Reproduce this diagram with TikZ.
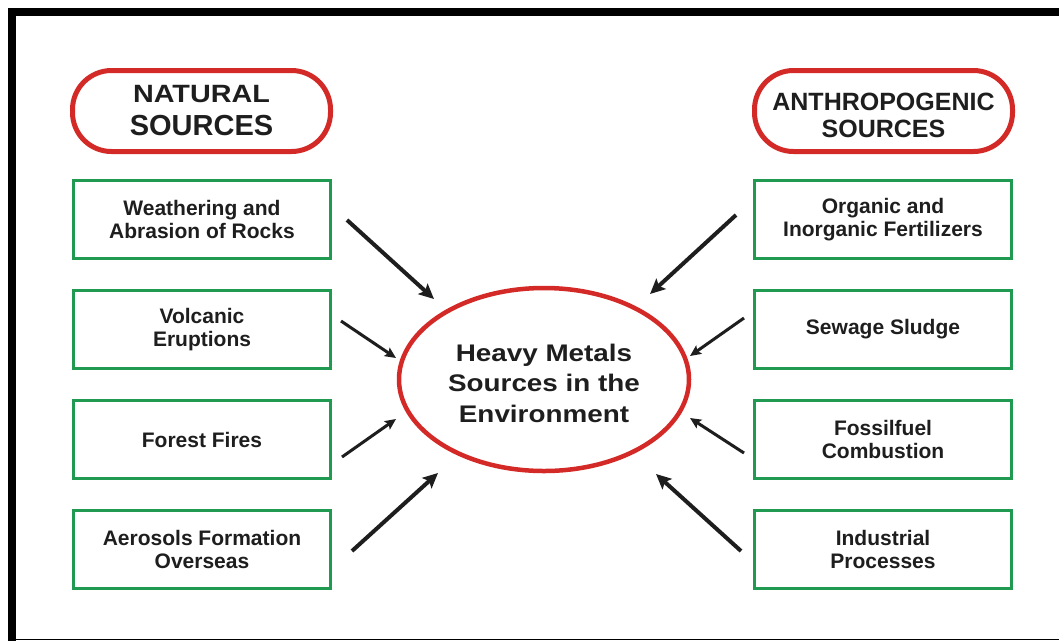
\documentclass[tikz,border=0pt]{standalone}
\usepackage{fontspec}
\setmainfont{Liberation Sans}
\newfontfamily\widesans[FakeStretch=1.15]{Liberation Sans}
\newfontfamily\centresans[FakeStretch=1.16]{Liberation Sans}
\usetikzlibrary{arrows.meta,shapes.geometric}
\definecolor{ovred}{HTML}{D42A27}
\definecolor{boxgreen}{HTML}{1F9A50}
\definecolor{txt}{HTML}{1E1E1E}
\begin{document}
\begin{tikzpicture}[x=1pt,y=-1pt,
  srcbox/.style={draw=boxgreen, line width=2.6pt, minimum width=257pt, minimum height=78pt,
    inner sep=0pt, align=center, font=\fontsize{21}{23}\selectfont\bfseries, text=txt},
  titlebox/.style={draw=ovred, line width=5pt, rounded corners=39pt, minimum width=258pt,
    minimum height=81pt, inner sep=0pt, align=center, text=txt},
  centre/.style={ellipse, draw=ovred, line width=4.5pt, minimum width=290pt, minimum height=183pt,
    inner sep=0pt, align=center, font=\centresans\fontsize{24}{30.5}\selectfont\bfseries, text=txt},
  thickarr/.style={-{Stealth[length=15pt,width=14pt,inset=3pt]}, line width=4pt, draw=txt},
  thinarr/.style={-{Stealth[length=11pt,width=10pt,inset=2pt]}, line width=3pt, draw=txt}
]
\useasboundingbox (0,0) rectangle (1059,641);
\fill[white] (0,0) rectangle (1059,641);
% frame
\fill[black] (8,8) rectangle (1059,16);
\fill[black] (8,8) rectangle (16,641);
\draw[black, line width=1.5pt] (16,639.5) -- (1059,639.5);

% titles
\node[titlebox, font=\fontsize{29}{33}\selectfont\bfseries] (nat) at (201.5,111)
  {{\widesans\fontsize{25}{29}\selectfont\bfseries NATURAL}\\SOURCES};
\node[titlebox, text height=52.9pt, text depth=0pt, font=\fontsize{25}{27}\selectfont\bfseries] (ant) at (883.5,111)
  {ANTHROPOGENIC\\SOURCES};

% left boxes
\node[srcbox] (l1) at (202,219.5) {Weathering and\\Abrasion of Rocks};
\node[srcbox] (l2) at (202,329.5) {Volcanic\\Eruptions};
\node[srcbox] (l3) at (202,439.5) {Forest Fires};
\node[srcbox] (l4) at (202,549.5) {Aerosols Formation\\Overseas};

% right boxes
\node[srcbox] (r1) at (883,219.5) {Organic and\\Inorganic Fertilizers};
\node[srcbox] (r2) at (883,329.5) {Sewage Sludge};
\node[srcbox] (r3) at (883,439.5) {Fossilfuel\\Combustion};
\node[srcbox] (r4) at (883,549.5) {Industrial\\Processes};

% centre
\node[centre, text height=85.5pt, text depth=0pt] (hm) at (544,379.5) {Heavy Metals\\Sources in the\\Environment};

% arrow end points
\coordinate (a1s) at (347,220);  \coordinate (a1e) at (434,299);
\coordinate (a2s) at (341,321);  \coordinate (a2e) at (396,358);
\coordinate (a3s) at (342,457);  \coordinate (a3e) at (396,419);
\coordinate (a4s) at (352,551);  \coordinate (a4e) at (438,473);
\coordinate (b1s) at (736,215);  \coordinate (b1e) at (650,294);
\coordinate (b2s) at (744,318);  \coordinate (b2e) at (690,356);
\coordinate (b3s) at (744,453);  \coordinate (b3e) at (690,418);
\coordinate (b4s) at (741,551);  \coordinate (b4e) at (656,474);

\draw[thickarr] (a1s) -- (a1e);
\draw[thinarr]  (a2s) -- (a2e);
\draw[thinarr]  (a3s) -- (a3e);
\draw[thickarr] (a4s) -- (a4e);
\draw[thickarr] (b1s) -- (b1e);
\draw[thinarr]  (b2s) -- (b2e);
\draw[thinarr]  (b3s) -- (b3e);
\draw[thickarr] (b4s) -- (b4e);
\end{tikzpicture}
\end{document}
